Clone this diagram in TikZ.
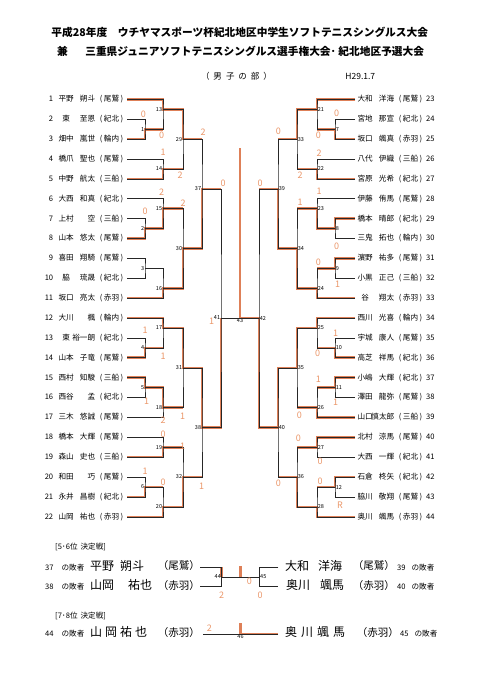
\documentclass[tikz,border=0pt]{standalone}
\usepackage{fontspec}
\setmainfont{Noto Sans CJK JP}
\usepackage{tikz}
\usetikzlibrary{positioning,backgrounds}

\definecolor{hlcol}{RGB}{222,128,88}
\definecolor{scorecol}{RGB}{234,150,105}

% player rows: number, surname, given name, school
\newcommand{\lplayer}[4]{\makebox[9pt][r]{#1}\hspace{5pt}\makebox[16pt][c]{#2}\makebox[21pt][r]{#3}\makebox[28pt][r]{(\kern1.5pt#4\kern1.5pt)}}
\newcommand{\rplayer}[4]{\makebox[16pt][c]{#1}\makebox[21pt][r]{#2}\makebox[28pt][r]{(\kern1.5pt#3\kern1.5pt)}\hspace{4pt}#4}

\begin{document}
\begin{tikzpicture}[x=1pt, y=-1pt,
    ln/.style={line width=0.6pt, black!85},
    hl/.style={line width=2.6pt, hlcol},
    plname/.style={anchor=west, inner sep=0pt, font=\fontsize{7.6}{9}\selectfont},
    mnum/.style={inner sep=0.7pt, font=\fontsize{5.5}{6}\selectfont},
    sc/.style={inner sep=0pt, text=scorecol, font=\fontsize{9}{10}\selectfont},
    hand/.style={anchor=west, inner sep=0pt, font=\fontsize{12}{13}\selectfont},
    handsch/.style={anchor=east, inner sep=0pt, font=\fontsize{10.5}{11}\selectfont},
    ttl/.style={inner sep=0pt, font=\fontsize{10.7}{12}\selectfont\bfseries},
    sub/.style={inner sep=0pt, font=\fontsize{8.5}{10}\selectfont}
]
    \useasboundingbox (0,0) rectangle (495,680);

    % heading
    \node[ttl] (title1) at (239.7,32.3) {平成28年度　ウチヤマスポーツ杯紀北地区中学生ソフトテニスシングルス大会};
    \node[ttl, anchor=west] (title2a) at (57,51.7) {兼};
    \node[ttl, right=17pt of title2a] (title2b) {三重県ジュニアソフトテニスシングルス選手権大会･ 紀北地区予選大会};
    \node[sub] (bu) at (236.5,76.7) {（\kern4pt 男\kern4pt 子\kern4pt の\kern4pt 部\kern4pt ）};
    \node[sub, right=73pt of bu] (date) {H29.1.7};

    % left players
    \node[plname] (n1) at (44,99.3) {\lplayer{1}{平野}{朔斗}{尾鷲}};
    \node[plname] (n2) at (44,119.2) {\lplayer{2}{東}{至恩}{紀北}};
    \node[plname] (n3) at (44,139.1) {\lplayer{3}{畑中}{嵐世}{輪内}};
    \node[plname] (n4) at (44,158.9) {\lplayer{4}{橋爪}{聖也}{尾鷲}};
    \node[plname] (n5) at (44,178.8) {\lplayer{5}{中野}{航太}{三船}};
    \node[plname] (n6) at (44,198.7) {\lplayer{6}{大西}{和真}{紀北}};
    \node[plname] (n7) at (44,218.6) {\lplayer{7}{上村}{空}{三船}};
    \node[plname] (n8) at (44,238.5) {\lplayer{8}{山本}{悠太}{尾鷲}};
    \node[plname] (n9) at (44,258.3) {\lplayer{9}{喜田}{翔騎}{尾鷲}};
    \node[plname] (n10) at (44,278.2) {\lplayer{10}{脇}{琉晟}{紀北}};
    \node[plname] (n11) at (44,298.1) {\lplayer{11}{坂口}{亮太}{赤羽}};
    \node[plname] (n12) at (44,318.0) {\lplayer{12}{大川}{楓}{輪内}};
    \node[plname] (n13) at (44,337.9) {\lplayer{13}{東}{裕一朗}{紀北}};
    \node[plname] (n14) at (44,357.7) {\lplayer{14}{山本}{子竜}{尾鷲}};
    \node[plname] (n15) at (44,377.6) {\lplayer{15}{西村}{知駿}{三船}};
    \node[plname] (n16) at (44,397.5) {\lplayer{16}{西谷}{孟}{紀北}};
    \node[plname] (n17) at (44,417.4) {\lplayer{17}{三木}{悠誠}{尾鷲}};
    \node[plname] (n18) at (44,437.3) {\lplayer{18}{橋本}{大輝}{尾鷲}};
    \node[plname] (n19) at (44,457.1) {\lplayer{19}{森山}{史也}{三船}};
    \node[plname] (n20) at (44,477.0) {\lplayer{20}{和田}{巧}{尾鷲}};
    \node[plname] (n21) at (44,496.9) {\lplayer{21}{永井}{昌樹}{紀北}};
    \node[plname] (n22) at (44,516.8) {\lplayer{22}{山岡}{祐也}{赤羽}};

    % right players
    \node[plname] (n23) at (357,99.3) {\rplayer{大和}{洋海}{尾鷲}{23}};
    \node[plname] (n24) at (357,119.2) {\rplayer{宮地}{那宣}{紀北}{24}};
    \node[plname] (n25) at (357,139.1) {\rplayer{坂口}{颯真}{赤羽}{25}};
    \node[plname] (n26) at (357,158.9) {\rplayer{八代}{伊織}{三船}{26}};
    \node[plname] (n27) at (357,178.8) {\rplayer{宮原}{光希}{紀北}{27}};
    \node[plname] (n28) at (357,198.7) {\rplayer{伊藤}{侑馬}{尾鷲}{28}};
    \node[plname] (n29) at (357,218.6) {\rplayer{橋本}{晴郎}{紀北}{29}};
    \node[plname] (n30) at (357,238.5) {\rplayer{三鬼}{拓也}{輪内}{30}};
    \node[plname] (n31) at (357,258.3) {\rplayer{濵野}{祐多}{尾鷲}{31}};
    \node[plname] (n32) at (357,278.2) {\rplayer{小黒}{正己}{三船}{32}};
    \node[plname] (n33) at (357,298.1) {\rplayer{谷}{翔太}{赤羽}{33}};
    \node[plname] (n34) at (357,318.0) {\rplayer{西川}{光喜}{輪内}{34}};
    \node[plname] (n35) at (357,337.9) {\rplayer{宇城}{康人}{尾鷲}{35}};
    \node[plname] (n36) at (357,357.7) {\rplayer{高芝}{祥馬}{紀北}{36}};
    \node[plname] (n37) at (357,377.6) {\rplayer{小嶋}{大輝}{紀北}{37}};
    \node[plname] (n38) at (357,397.5) {\rplayer{澤田}{龍弥}{尾鷲}{38}};
    \node[plname] (n39) at (357,417.4) {\rplayer{山口}{慎太郎}{三船}{39}};
    \node[plname] (n40) at (357,437.3) {\rplayer{北村}{涼馬}{尾鷲}{40}};
    \node[plname] (n41) at (357,457.1) {\rplayer{大西}{一輝}{紀北}{41}};
    \node[plname] (n42) at (357,477.0) {\rplayer{石倉}{柊矢}{紀北}{42}};
    \node[plname] (n43) at (357,496.9) {\rplayer{脇川}{敬翔}{尾鷲}{43}};
    \node[plname] (n44) at (357,516.8) {\rplayer{奥川}{颯馬}{赤羽}{44}};

    % line ends at the names
    \coordinate (L1) at (127,99.3);   \coordinate (L2) at (127,119.2);
    \coordinate (L3) at (127,139.1);  \coordinate (L4) at (127,158.9);
    \coordinate (L5) at (127,178.8);  \coordinate (L6) at (127,198.7);
    \coordinate (L7) at (127,218.6);  \coordinate (L8) at (127,238.5);
    \coordinate (L9) at (127,258.3);  \coordinate (L10) at (127,278.2);
    \coordinate (L11) at (127,298.1); \coordinate (L12) at (127,318.0);
    \coordinate (L13) at (127,337.9); \coordinate (L14) at (127,357.7);
    \coordinate (L15) at (127,377.6); \coordinate (L16) at (127,397.5);
    \coordinate (L17) at (127,417.4); \coordinate (L18) at (127,437.3);
    \coordinate (L19) at (127,457.1); \coordinate (L20) at (127,477.0);
    \coordinate (L21) at (127,496.9); \coordinate (L22) at (127,516.8);
    \coordinate (R23) at (355,99.3);  \coordinate (R24) at (355,119.2);
    \coordinate (R25) at (355,139.1); \coordinate (R26) at (355,158.9);
    \coordinate (R27) at (355,178.8); \coordinate (R28) at (355,198.7);
    \coordinate (R29) at (355,218.6); \coordinate (R30) at (355,238.5);
    \coordinate (R31) at (355,258.3); \coordinate (R32) at (355,278.2);
    \coordinate (R33) at (355,298.1); \coordinate (R34) at (355,318.0);
    \coordinate (R35) at (355,337.9); \coordinate (R36) at (355,357.7);
    \coordinate (R37) at (355,377.6); \coordinate (R38) at (355,397.5);
    \coordinate (R39) at (355,417.4); \coordinate (R40) at (355,437.3);
    \coordinate (R41) at (355,457.1); \coordinate (R42) at (355,477.0);
    \coordinate (R43) at (355,496.9); \coordinate (R44) at (355,516.8);

    % match points (left half)
    \path (145,129.2) coordinate (m1) node[mnum, left] (t1) {1};
    \path (145,228.6) coordinate (m2) node[mnum, left] (t2) {2};
    \path (145,268.3) coordinate (m3) node[mnum, left] (t3) {3};
    \path (145,347.8) coordinate (m4) node[mnum, left] (t4) {4};
    \path (145,387.6) coordinate (m5) node[mnum, left] (t5) {5};
    \path (145,487.0) coordinate (m6) node[mnum, left] (t6) {6};
    \path (163,109.3) coordinate (m13) node[mnum, left] (t13) {13};
    \path (163,168.9) coordinate (m14) node[mnum, left] (t14) {14};
    \path (163,208.7) coordinate (m15) node[mnum, left] (t15) {15};
    \path (163,288.2) coordinate (m16) node[mnum, left] (t16) {16};
    \path (163,328.0) coordinate (m17) node[mnum, left] (t17) {17};
    \path (163,407.5) coordinate (m18) node[mnum, left] (t18) {18};
    \path (163,447.2) coordinate (m19) node[mnum, left] (t19) {19};
    \path (163,506.9) coordinate (m20) node[mnum, left] (t20) {20};
    \path (183,139.1) coordinate (m29) node[mnum, left] (t29) {29};
    \path (183,248.4) coordinate (m30) node[mnum, left] (t30) {30};
    \path (183,367.8) coordinate (m31) node[mnum, left] (t31) {31};
    \path (183,477.0) coordinate (m32) node[mnum, left] (t32) {32};
    \path (202,188.8) coordinate (m37) node[mnum, left] (t37) {37};
    \path (202,427.4) coordinate (m38) node[mnum, left] (t38) {38};
    \path (221,318.0) coordinate (m41) node[mnum, left] (t41) {41};
    % match points (right half)
    \path (335,129.2) coordinate (m7) node[mnum, right] (t7) {7};
    \path (335,228.6) coordinate (m8) node[mnum, right] (t8) {8};
    \path (335,268.3) coordinate (m9) node[mnum, right] (t9) {9};
    \path (335,347.8) coordinate (m10) node[mnum, right] (t10) {10};
    \path (335,387.6) coordinate (m11) node[mnum, right] (t11) {11};
    \path (335,487.0) coordinate (m12) node[mnum, right] (t12) {12};
    \path (317,109.3) coordinate (m21) node[mnum, right] (t21) {21};
    \path (317,168.9) coordinate (m22) node[mnum, right] (t22) {22};
    \path (317,208.7) coordinate (m23) node[mnum, right] (t23) {23};
    \path (317,288.2) coordinate (m24) node[mnum, right] (t24) {24};
    \path (317,328.0) coordinate (m25) node[mnum, right] (t25) {25};
    \path (317,407.5) coordinate (m26) node[mnum, right] (t26) {26};
    \path (317,447.2) coordinate (m27) node[mnum, right] (t27) {27};
    \path (317,506.9) coordinate (m28) node[mnum, right] (t28) {28};
    \path (297,139.1) coordinate (m33) node[mnum, right] (t33) {33};
    \path (297,248.4) coordinate (m34) node[mnum, right] (t34) {34};
    \path (297,367.8) coordinate (m35) node[mnum, right] (t35) {35};
    \path (297,477.0) coordinate (m36) node[mnum, right] (t36) {36};
    \path (278,188.8) coordinate (m39) node[mnum, right] (t39) {39};
    \path (278,427.4) coordinate (m40) node[mnum, right] (t40) {40};
    \path (259,318.0) coordinate (m42) node[mnum, right] (t42) {42};
    \path (240,318.0) coordinate (m43) node[mnum, below] (t43) {43};
    \coordinate (top43) at (240,148);

    % winners marked by hand
    \begin{scope}[on background layer]
        \draw[hl] (L1) -| (m13) -- (m13 -| m29) -- (m29) -- (m29 -| m37);
        \draw[hl] (L3) -| (m1) -- (m1 -| m13);
        \draw[hl] (L5) -| (m14) -- (m14 -| m29);
        \draw[hl] (L8) -| (m2) -- (m2 -| m15) -- (m15) -- (m15 -| m30);
        \draw[hl] (L11) -| (m16) -- (m16 -| m30) -- (m30) -- (m30 -| m37) -- (m37) -- (m37 -| m41);
        \draw[hl] (L12) -| (m17) -- (m17 -| m31) -- (m31) -- (m31 -| m38) -- (m38) -- (m38 -| m41) -- (m41);
        \draw[hl] (L14) -| (m4) -- (m4 -| m17);
        \draw[hl] (L15) -| (m5) -- (m5 -| m18) -- (m18) -- (m18 -| m31);
        \draw[hl] (L19) -| (m19) -- (m19 -| m32);
        \draw[hl] (L21) -| (m6) -- (m6 -| m20);
        \draw[hl] (L22) -| (m20) -- (m20 -| m32) -- (m32) -- (m32 -| m38);
        \draw[hl] (R23) -| (m21) -- (m21 -| m33) -- (m33) -- (m33 -| m39);
        \draw[hl] (R25) -| (m7) -- (m7 -| m21);
        \draw[hl] (R27) -| (m22) -- (m22 -| m33);
        \draw[hl] (R29) -| (m8) -- (m8 -| m23) -- (m23) -- (m23 -| m34);
        \draw[hl] (R31) -| (m9) -- (m9 -| m24);
        \draw[hl] (R33) -| (m24) -- (m24 -| m34) -- (m34) -- (m34 -| m39) -- (m39) -- (m39 -| m42);
        \draw[hl] (R34) -| (m25) -- (m25 -| m35) -- (m35) -- (m35 -| m40) -- (m40) -- (m40 -| m42) -- (m42) -- (m43) -- (top43);
        \draw[hl] (R36) -| (m10) -- (m10 -| m25);
        \draw[hl] (R37) -| (m11) -- (m11 -| m26);
        \draw[hl] (R39) -| (m26) -- (m26 -| m35);
        \draw[hl] (R40) -| (m27) -- (m27 -| m36);
        \draw[hl] (R42) -| (m12) -- (m12 -| m28);
        \draw[hl] (R44) -| (m28) -- (m28 -| m36) -- (m36) -- (m36 -| m40);
    \end{scope}

    % bracket, left half
    \draw[ln] (L2) -| (m1) |- (L3);
    \draw[ln] (L7) -| (m2) |- (L8);
    \draw[ln] (L9) -| (m3) |- (L10);
    \draw[ln] (L13) -| (m4) |- (L14);
    \draw[ln] (L15) -| (m5) |- (L16);
    \draw[ln] (L20) -| (m6) |- (L21);
    \draw[ln] (L1) -| (m13) |- (m1);
    \draw[ln] (L4) -| (m14) |- (L5);
    \draw[ln] (L6) -| (m15) |- (m2);
    \draw[ln] (m3) -| (m16) |- (L11);
    \draw[ln] (L12) -| (m17) |- (m4);
    \draw[ln] (m5) -| (m18) |- (L17);
    \draw[ln] (L18) -| (m19) |- (L19);
    \draw[ln] (m6) -| (m20) |- (L22);
    \draw[ln] (m13) -| (m29) |- (m14);
    \draw[ln] (m15) -| (m30) |- (m16);
    \draw[ln] (m17) -| (m31) |- (m18);
    \draw[ln] (m19) -| (m32) |- (m20);
    \draw[ln] (m29) -| (m37) |- (m30);
    \draw[ln] (m31) -| (m38) |- (m32);
    \draw[ln] (m37) -| (m41) |- (m38);
    % bracket, right half
    \draw[ln] (R24) -| (m7) |- (R25);
    \draw[ln] (R29) -| (m8) |- (R30);
    \draw[ln] (R31) -| (m9) |- (R32);
    \draw[ln] (R35) -| (m10) |- (R36);
    \draw[ln] (R37) -| (m11) |- (R38);
    \draw[ln] (R42) -| (m12) |- (R43);
    \draw[ln] (R23) -| (m21) |- (m7);
    \draw[ln] (R26) -| (m22) |- (R27);
    \draw[ln] (R28) -| (m23) |- (m8);
    \draw[ln] (m9) -| (m24) |- (R33);
    \draw[ln] (R34) -| (m25) |- (m10);
    \draw[ln] (m11) -| (m26) |- (R39);
    \draw[ln] (R40) -| (m27) |- (R41);
    \draw[ln] (m12) -| (m28) |- (R44);
    \draw[ln] (m21) -| (m33) |- (m22);
    \draw[ln] (m23) -| (m34) |- (m24);
    \draw[ln] (m25) -| (m35) |- (m26);
    \draw[ln] (m27) -| (m36) |- (m28);
    \draw[ln] (m33) -| (m39) |- (m34);
    \draw[ln] (m35) -| (m40) |- (m36);
    \draw[ln] (m39) -| (m42) |- (m40);
    \draw[ln] (m41) -- (m42);

    % scores written in
    \node[sc] (s1) at (143.3,114.3) {0};
    \node[sc] (s2) at (161.7,135) {0};
    \node[sc] (s3) at (163,152) {1};
    \node[sc] (s4) at (180,175.7) {2};
    \node[sc] (s5) at (203,132) {2};
    \node[sc] (s6) at (161.7,192.3) {2};
    \node[sc] (s7) at (183,203) {2};
    \node[sc] (s8) at (145,211.7) {0};
    \node[sc] (s9) at (223,183) {0};
    \node[sc] (s10) at (211.7,321) {1};
    \node[sc] (s11) at (145,330.7) {1};
    \node[sc] (s12) at (163,356.7) {1};
    \node[sc] (s13) at (146.7,401.7) {1};
    \node[sc] (s14) at (182.7,416) {1};
    \node[sc] (s15) at (163,420.7) {2};
    \node[sc] (s16) at (163,434) {0};
    \node[sc] (s17) at (182.7,446.7) {1};
    \node[sc] (s18) at (145,471.7) {1};
    \node[sc] (s19) at (163,482.3) {0};
    \node[sc] (s20) at (201.7,486.7) {1};
    \node[sc] (s21) at (336.7,113.3) {0};
    \node[sc] (s22) at (318.3,135.7) {0};
    \node[sc] (s23) at (278.3,131.7) {0};
    \node[sc] (s24) at (319,153.3) {2};
    \node[sc] (s25) at (300,175.7) {2};
    \node[sc] (s26) at (260,183.3) {0};
    \node[sc] (s27) at (319,191.7) {1};
    \node[sc] (s28) at (300,202.3) {1};
    \node[sc] (s29) at (336.7,246) {0};
    \node[sc] (s30) at (318.3,262.7) {0};
    \node[sc] (s31) at (337.7,284) {1};
    \node[sc] (s32) at (335.7,333.3) {1};
    \node[sc] (s33) at (317.7,353.3) {0};
    \node[sc] (s34) at (318.3,379.3) {1};
    \node[sc] (s35) at (335.7,402.7) {1};
    \node[sc] (s36) at (299.3,415) {0};
    \node[sc] (s37) at (298.3,438.3) {0};
    \node[sc] (s38) at (320,461.7) {0};
    \node[sc] (s39) at (320,481.7) {0};
    \node[sc] (s40) at (340,505) {R};
    \node[sc] (s41) at (278.3,483.3) {0};

    % 5th-6th place
    \node[plname] (k1) at (55,546.7) {[5･6位\kern3pt 決定戦]};
    \node[plname] (k2) at (45,567.3) {37\hspace{8pt}の敗者};
    \node[plname] (k3) at (45,586.7) {38\hspace{8pt}の敗者};
    \node[hand] (h1) at (90,565.5) {平野\hspace{6pt}朔斗};
    \node[handsch] (h1s) at (200,566) {（尾鷲）};
    \node[hand] (h2) at (90,585) {山岡\hspace{14pt}祐也};
    \node[handsch] (h2s) at (200,586) {（赤羽）};
    \node[hand] (h3) at (285,565.5) {大和\hspace{9pt}洋海};
    \node[handsch] (h3s) at (395,566) {（尾鷲）};
    \node[hand] (h4) at (286,585) {奥川\hspace{10pt}颯馬};
    \node[handsch] (h4s) at (395,586) {（赤羽）};
    \node[plname] (k4) at (397,567.3) {39\hspace{6pt}の敗者};
    \node[plname] (k5) at (397,586.7) {40\hspace{6pt}の敗者};
    \coordinate (a1) at (200,567.3);
    \coordinate (a2) at (200,586.7);
    \coordinate (b1) at (278.3,567.3);
    \coordinate (b2) at (278.3,586.7);
    \path (221.7,577) coordinate (m44) node[mnum, left] (t44) {44};
    \path (259.3,577) coordinate (m45) node[mnum, right] (t45) {45};
    \coordinate (c56) at (240.5,577);
    \coordinate (c56top) at (240.5,566);
    \begin{scope}[on background layer]
        \draw[hl] (a1 -| m44) -- (m44);
        \draw[hl] (c56) -- (c56top);
    \end{scope}
    \draw[ln] (a1) -| (m44) |- (a2);
    \draw[ln] (b1) -| (m45) |- (b2);
    \draw[ln] (m44) -- (m45);
    \node[sc] (s42) at (221.7,595) {2};
    \node[sc] (s43) at (249.3,581.7) {0};
    \node[sc] (s44) at (260,595) {0};

    % 7th-8th place
    \node[plname] (k6) at (55,616) {[7･8位\kern3pt 決定戦]};
    \node[plname] (k7) at (45,633.5) {44\hspace{8pt}の敗者};
    \node[hand] (h5) at (90,632) {山\kern3pt 岡\kern3pt 祐\kern3pt 也};
    \node[handsch] (h5s) at (200,633) {（赤羽）};
    \node[hand] (h6) at (285,632) {奥\kern4pt 川\kern4pt 颯\kern4pt 馬};
    \node[handsch] (h6s) at (399,633) {（赤羽）};
    \node[plname] (k8) at (400,633.5) {45\hspace{6pt}の敗者};
    \coordinate (d1) at (203,634);
    \coordinate (d2) at (278.3,634);
    \path (240.5,634) coordinate (m46) node[mnum, below] (t46) {46};
    \coordinate (m46top) at (240.5,623);
    \begin{scope}[on background layer]
        \draw[hl] (d2) -- (m46) -- (m46top);
    \end{scope}
    \draw[ln] (d1) -- (d2);
    \node[sc] (s45) at (209.3,628) {2};
\end{tikzpicture}
\end{document}
